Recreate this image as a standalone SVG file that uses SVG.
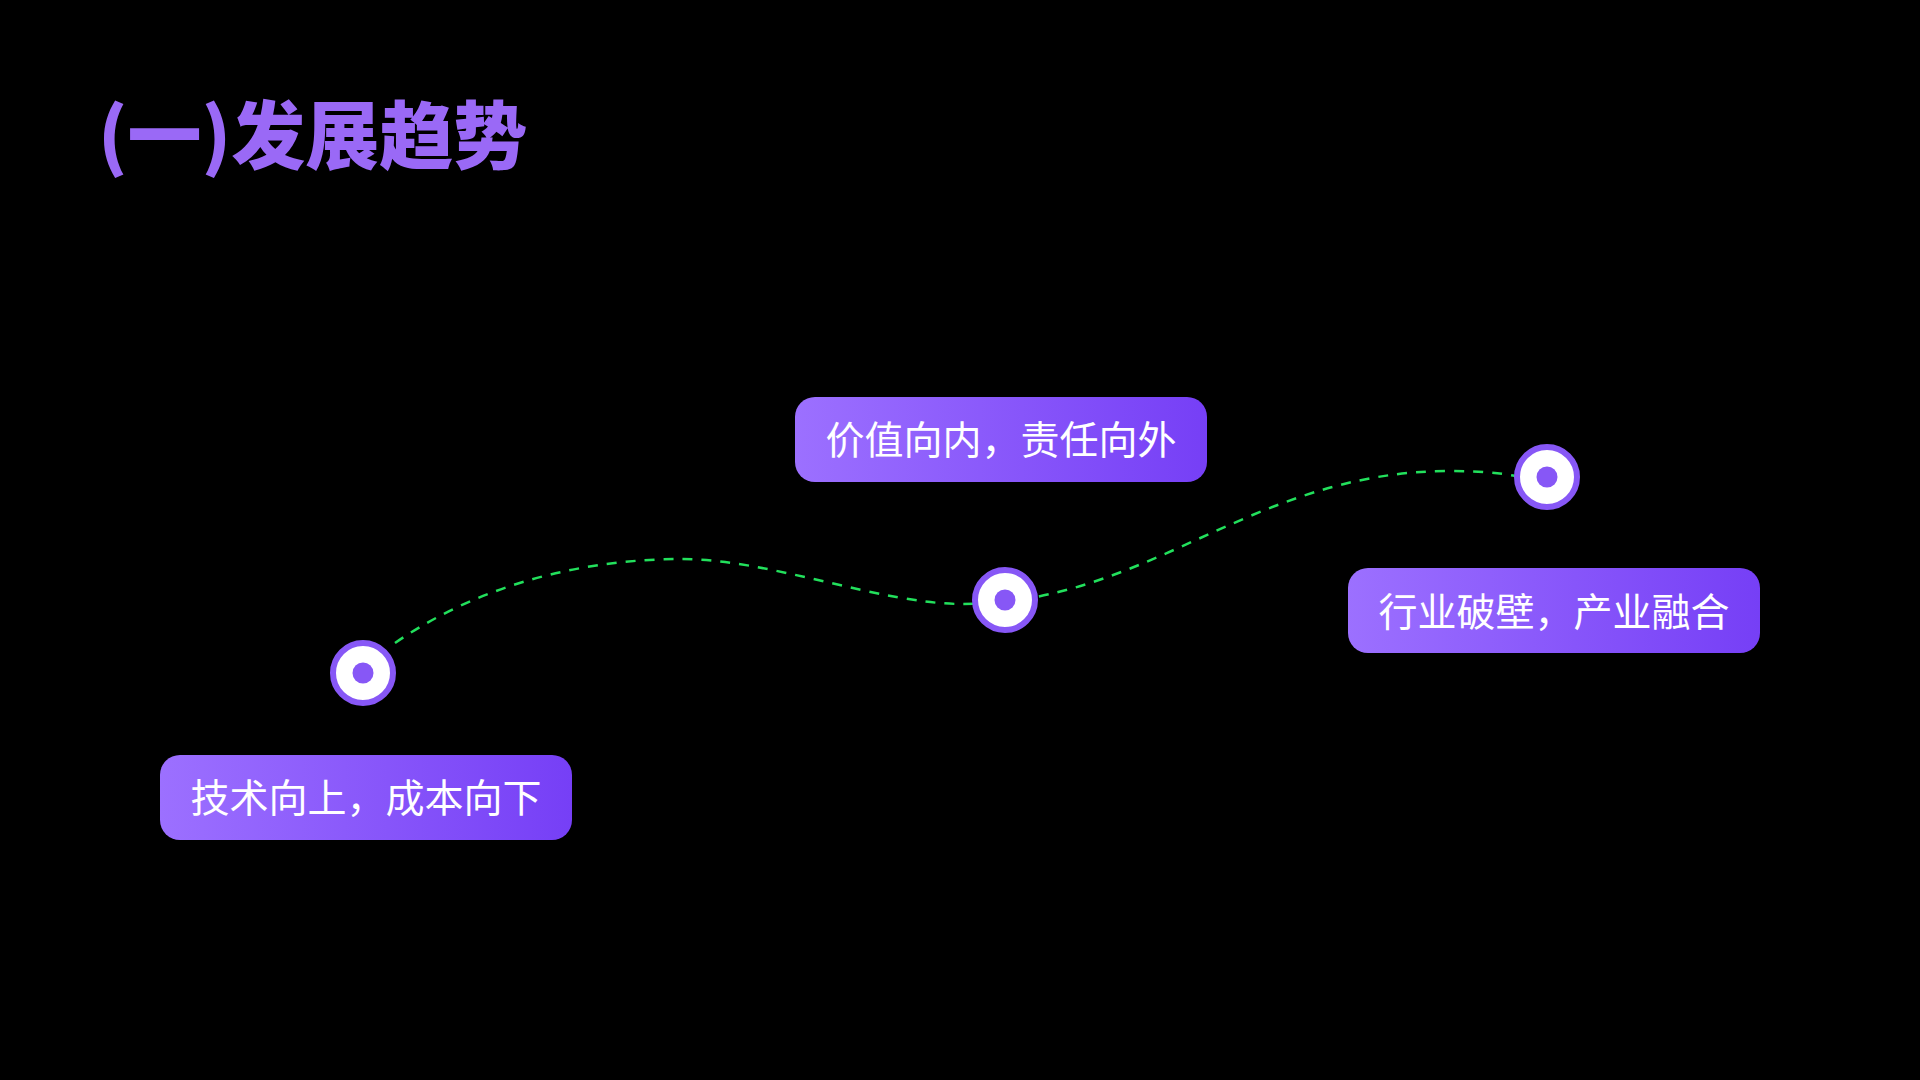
<svg xmlns="http://www.w3.org/2000/svg" width="1920" height="1080" viewBox="0 0 1920 1080">
  <defs>
    <linearGradient id="boxGrad" x1="0" y1="0" x2="1" y2="0">
      <stop offset="0" stop-color="#9c70ff"/>
      <stop offset="1" stop-color="#763ff6"/>
    </linearGradient>
    <style>
      .title { font-family: "Noto Sans CJK SC", "Noto Sans", sans-serif; font-weight: 900; font-size: 74px; fill: #9a69f6; }
      .label { font-family: "Noto Sans CJK SC", "Noto Sans", sans-serif; font-size: 39px; fill: #ffffff; text-anchor: middle; }
      .box { fill: url(#boxGrad); }
      .ring { fill: #ffffff; stroke: #8757f6; stroke-width: 6; }
      .dot { fill: #8757f6; }
      .conn { fill: none; stroke: #22e05c; stroke-width: 2.5; stroke-dasharray: 10 9; }
    </style>
  </defs>
  <rect x="0" y="0" width="1920" height="1080" fill="#000000"/>
  <text class="title" x="98" y="163">(一)发展趋势</text>

  <g id="connectors">
    <path class="conn" d="M395,643 C485,581 590,559 682,559 C770,559 880,604 962,604 C1150,604 1250,471 1450,471 C1480,471 1500,473 1515,476"/>
  </g>

  <g id="node1">
    <circle class="ring" cx="363" cy="673" r="30"/>
    <circle class="dot" cx="363" cy="673" r="10.5"/>
    <rect class="box" x="160" y="755" width="412" height="85" rx="20"/>
    <text class="label" x="366" y="812">技术向上，成本向下</text>
  </g>

  <g id="node2">
    <circle class="ring" cx="1005" cy="600" r="30"/>
    <circle class="dot" cx="1005" cy="600" r="10.5"/>
    <rect class="box" x="795" y="397" width="412" height="85" rx="20"/>
    <text class="label" x="1001" y="454">价值向内，责任向外</text>
  </g>

  <g id="node3">
    <circle class="ring" cx="1547" cy="477" r="30"/>
    <circle class="dot" cx="1547" cy="477" r="10.5"/>
    <rect class="box" x="1348" y="568" width="412" height="85" rx="20"/>
    <text class="label" x="1554" y="626">行业破壁，产业融合</text>
  </g>
</svg>
